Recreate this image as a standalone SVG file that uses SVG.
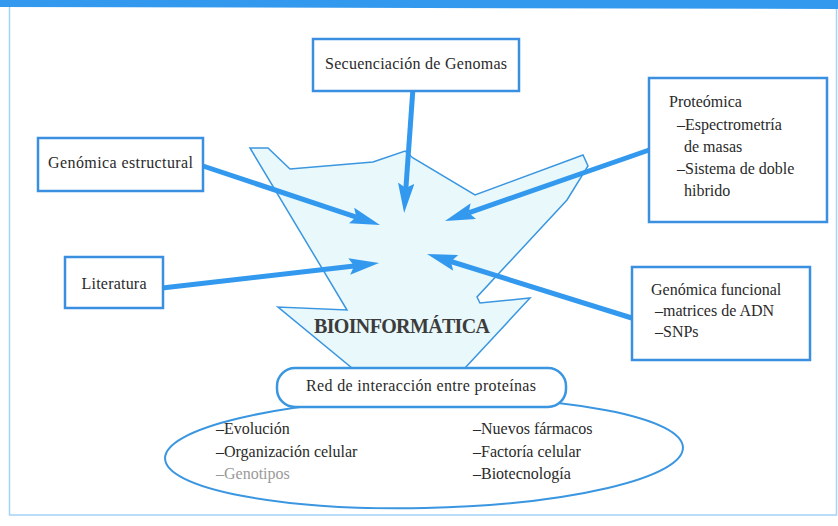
<svg xmlns="http://www.w3.org/2000/svg" width="838" height="526" viewBox="0 0 838 526">
<style>
.box{fill:#ffffff;stroke:#3a8fe0;stroke-width:2.5}
.t{font-family:"Liberation Serif","DejaVu Serif",serif;font-size:16px;fill:#2a2a2a}
.conn{stroke:#3399ee;stroke-width:5;fill:none;marker-end:url(#ah)}
</style>
<defs>
<marker id="ah" viewBox="0 0 12 6.6" refX="2" refY="3.3" markerWidth="6" markerHeight="3.3" orient="auto" markerUnits="strokeWidth">
<path d="M0,0 L12,3.3 L0,6.6 L2,3.3 z" fill="#3399ee"/>
</marker>
</defs>
<rect x="0" y="0" width="838" height="526" fill="#ffffff"/>
<g id="frame">
<rect x="9.5" y="6" width="827" height="509" fill="none" stroke="#a6d2f5" stroke-width="1.5"/>
<polygon points="0,0 838,0 838,9 0,7" fill="#3399ee"/>
</g>
<g id="bioinformatica">
<polygon points="250,148 268,148 290,169 373,162 405,151 413,158 475,195 583,155 588,166 567,200 477,297 480,303 530,298 465,368 352,368 278,307 347,310" fill="#e8f8fb" stroke="#3a96e0" stroke-width="1.5" stroke-linejoin="miter"/>
<text x="402" y="333" text-anchor="middle" class="t" style="font-size:20px;font-weight:bold;fill:#3c3c3c" textLength="176">BIOINFORMÁTICA</text>
</g>
<g id="connectors">
<line class="conn" x1="413" y1="88" x2="405.9" y2="188.1"/>
<line class="conn" x1="200" y1="165" x2="356.3" y2="217.1"/>
<line class="conn" x1="160" y1="288.3" x2="354.2" y2="265.9"/>
<line class="conn" x1="652" y1="149" x2="468.6" y2="212.8"/>
<line class="conn" x1="635" y1="319" x2="450.9" y2="261.5"/>
</g>
<g id="secuenciacion">
<rect class="box" x="313" y="39" width="206" height="52"/>
<text class="t" x="416" y="69" text-anchor="middle" textLength="182">Secuenciación de Genomas</text>
</g>
<g id="genomica-estructural">
<rect class="box" x="38" y="138" width="165" height="53"/>
<text class="t" x="120.5" y="168" text-anchor="middle" textLength="145">Genómica estructural</text>
</g>
<g id="literatura">
<rect class="box" x="65" y="257" width="98" height="51"/>
<text class="t" x="114" y="289" text-anchor="middle" textLength="65">Literatura</text>
</g>
<g id="proteomica">
<rect class="box" x="649" y="78" width="178" height="144"/>
<text class="t" x="669" y="107">Proteómica</text>
<text class="t" x="677" y="130">–Espectrometría</text>
<text class="t" x="684" y="152">de masas</text>
<text class="t" x="677" y="174">–Sistema de doble</text>
<text class="t" x="684" y="196">hibrido</text>
</g>
<g id="genomica-funcional">
<rect class="box" x="632" y="267" width="178" height="93"/>
<text class="t" x="651" y="295">Genómica funcional</text>
<text class="t" x="655" y="316">–matrices de ADN</text>
<text class="t" x="655" y="337">–SNPs</text>
</g>
<g id="red">
<ellipse cx="424" cy="453" rx="259" ry="55" transform="rotate(-1.2 424 453)" fill="#ffffff" stroke="#3a96e0" stroke-width="2"/>
<rect x="277" y="368" width="289" height="39" rx="18" ry="18" fill="#ffffff" stroke="#3a96e0" stroke-width="2.5"/>
<text class="t" x="421" y="391" text-anchor="middle" textLength="230">Red de interacción entre proteínas</text>
<text class="t" x="216" y="434">–Evolución</text>
<text class="t" x="216" y="457">–Organización celular</text>
<text class="t" x="216" y="479" style="fill:#9a9a9a">–Genotipos</text>
<text class="t" x="473" y="434">–Nuevos fármacos</text>
<text class="t" x="473" y="457">–Factoría celular</text>
<text class="t" x="473" y="479">–Biotecnología</text>
</g>
</svg>
